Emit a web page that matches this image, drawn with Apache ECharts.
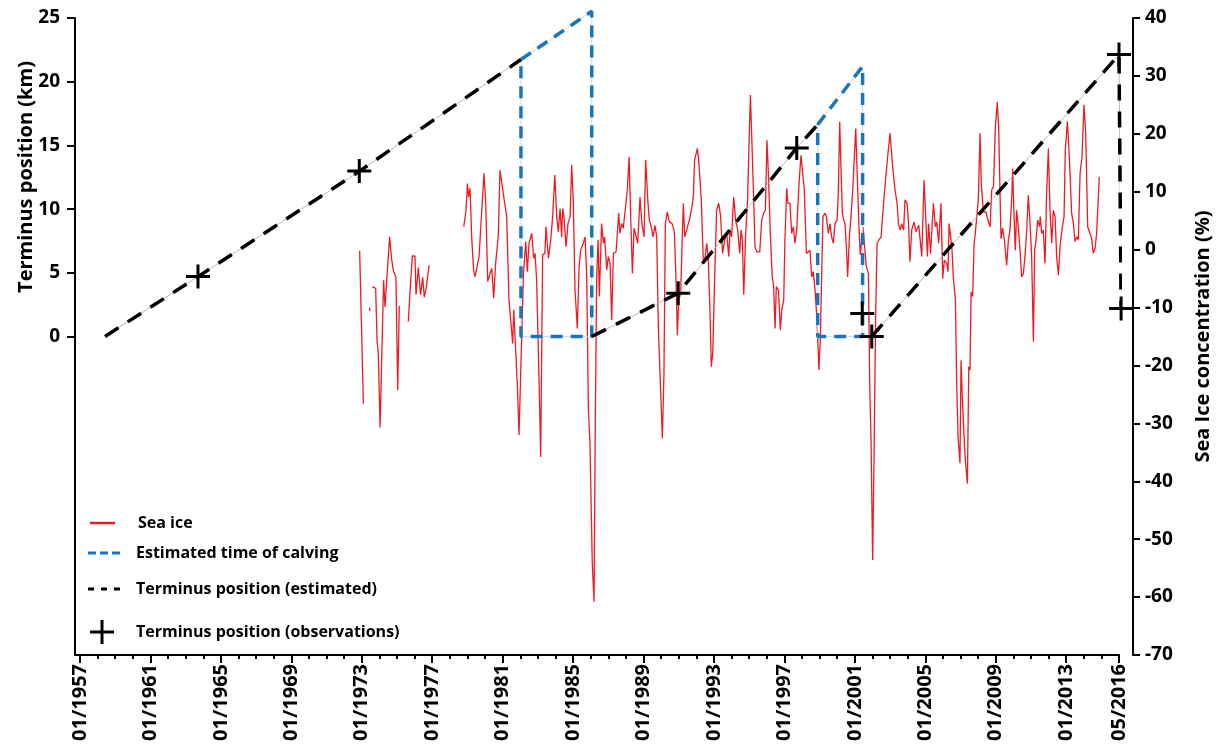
<!DOCTYPE html>
<html><head><meta charset="utf-8">
<script src="https://cdn.jsdelivr.net/npm/echarts@6/dist/echarts.min.js"></script>
<style>html,body{margin:0;padding:0;background:#fff}#c{width:1218px;height:754px}</style>
</head><body><div id="c"></div>
<script>
const FONT = '"Open Sans", "Noto Sans", sans-serif';

// ---- tick labels ----
const xMajorYears = [1957,1961,1965,1969,1973,1977,1981,1985,1989,1993,1997,2001,2005,2009,2013,2016];
const xMinorYears = [];
for (let y = 1957; y <= 2016; y++) xMinorYears.push(y);
const kmTicks = [0,5,10,15,20,25];

// ---- sea ice concentration (%), [decimal year, value] ----
const seaIceA = [[1972.88,-0.2],[1973.09,-26.6]];
const seaIceDot = [[1973.43,-10.0],[1973.47,-10.6]];
const seaIceB = [[1973.60,-6.4],[1973.79,-6.7],[1973.87,-15.9],[1973.94,-17.9],[1974.04,-30.7],[1974.24,-5.3],[1974.32,-9.9],[1974.43,-4.7],[1974.58,2.2],[1974.70,-1.8],[1974.81,-3.8],[1974.94,-4.7],[1975.04,-24.3],[1975.13,-9.7]];
const seaIceB2 = [[1975.64,-12.4],[1975.87,-1.1],[1976.02,-1.1],[1976.08,-7.8],[1976.21,-3.1],[1976.34,-7.8],[1976.46,-4.8],[1976.55,-8.2],[1976.67,-6.4],[1976.82,-2.7]];
const seaIceC = [
[1978.79,3.96],[1978.92,6.8],[1979.00,11.4],[1979.07,9.1],[1979.15,10.6],[1979.24,2.2],[1979.35,-3.5],[1979.43,-4.7],[1979.54,-4.4],[1979.66,-1.2],[1979.75,-0.9],[1979.85,8.6],[1979.94,13.2],[1980.04,8.0],[1980.15,-5.5],[1980.24,-5.8],[1980.38,-3.2],[1980.49,-8.4],[1980.60,-2.4],[1980.75,2.2],[1980.85,13.7],[1980.94,13.7],[1981.09,8.6],[1981.23,5.7],[1981.36,-8.7],[1981.45,-8.4],[1981.57,-16.2],[1981.63,-10.4],[1981.72,-10.7],[1981.83,-23.1],[1981.93,-32.0],[1982.08,-15.0],[1982.18,-4.4],[1982.31,1.4],[1982.40,-3.8],[1982.50,1.1],[1982.65,2.8],[1982.76,-1.5],[1982.84,-0.65],[1982.93,-5.3],[1983.08,-24.3],[1983.16,-35.8],
[1983.27,-0.9],[1983.40,-0.65],[1983.46,3.96],[1983.60,-1.5],[1983.73,1.7],[1983.84,5.7],[1983.96,12.9],[1984.07,5.7],[1984.16,3.1],[1984.26,7.1],[1984.35,2.2],[1984.41,7.1],[1984.48,5.7],[1984.60,0.5],[1984.71,4.5],[1984.83,5.7],[1984.92,14.6],[1985.01,8.6],[1985.11,-7.0],[1985.24,-13.6],[1985.34,-2.9],[1985.43,-0.1],[1985.58,1.1],[1985.68,2.2],[1985.77,-4.1],[1985.87,-27.7],[1985.96,-33.5],[1986.09,-54.2],[1986.19,-60.8],[1986.26,-30.0],[1986.34,-4.7],[1986.42,1.7],[1986.49,-8.1],[1986.62,4.5],[1986.72,1.1],[1986.79,2.2],[1986.91,-3.5],[1987.00,-1.2],[1987.10,-2.4],[1987.19,-12.2],[1987.29,-0.65],[1987.44,-0.4],[1987.59,6.3],[1987.66,2.8],[1987.76,4.5],[1987.85,3.7],[1987.95,3.96],[1988.08,10.3],[1988.18,16.0],[1988.27,5.7],[1988.37,-4.1],[1988.46,3.7],[1988.57,3.7],[1988.67,1.1],[1988.80,9.1],[1988.91,4.5],[1989.03,2.2],[1989.12,15.5],[1989.24,8.6],[1989.33,5.1],[1989.44,3.96],[1989.54,2.2],[1989.65,4.2],[1989.75,2.2],[1989.84,-13.3],[1989.94,-13.6],[1990.07,-32.6],[1990.16,-21.4],[1990.24,4.5],[1990.35,6.5],[1990.46,4.8],[1990.62,4.5],[1990.75,3.1],[1990.84,-4.7],[1990.92,-14.8],[1991.00,-8.7],[1991.11,-7.6],[1991.19,1.1],[1991.26,8.0],[1991.34,2.2],[1991.45,2.5],[1991.60,5.1],[1991.73,7.1],[1991.83,9.1],[1991.90,15.5],[1991.98,15.8],[1992.06,17.5],[1992.13,15.5],[1992.28,8.6],[1992.40,-2.4],[1992.47,-1.8],[1992.59,1.1],[1992.68,-1.8],[1992.77,-10.4],[1992.85,-20.2],[1992.93,-17.9],[1993.04,-4.7],[1993.15,6.8],[1993.27,8.0],[1993.38,5.7],[1993.49,-0.65],[1993.61,1.7],[1993.72,2.8],[1993.84,-1.2],[1993.91,3.4],
[1994.00,2.2],[1994.12,9.1],[1994.23,5.1],[1994.35,3.4],[1994.46,-0.65],[1994.54,3.4],[1994.61,1.7],[1994.69,-7.8],[1994.80,2.8],[1994.91,8.6],[1994.99,18.4],[1995.07,26.7],[1995.14,26.4],[1995.24,10.3],[1995.33,0.5],[1995.44,-0.4],[1995.60,-0.4],[1995.71,5.1],[1995.82,6.3],[1995.92,6.8],[1996.01,18.9],[1996.09,13.2],[1996.20,2.8],[1996.31,-4.7],[1996.39,-6.4],[1996.47,-13.6],[1996.54,-6.4],[1996.66,-7.0],[1996.77,-13.9],[1996.85,-10.4],[1996.96,-8.7],[1997.03,1.7],[1997.13,10.6],[1997.20,8.0],[1997.32,8.0],[1997.41,2.8],[1997.51,3.96],[1997.60,1.1],[1997.70,3.4],[1997.83,11.4],[1997.94,16.3],[1998.04,13.2],[1998.13,10.3],[1998.25,-0.65],[1998.36,-0.4],[1998.45,-0.1],[1998.55,-4.7],[1998.64,-3.8],[1998.74,-7.0],[1998.85,-12.2],[1998.96,-20.8],[1999.04,-15.3],[1999.12,-4.1],[1999.19,5.7],[1999.31,6.3],[1999.38,5.7],[1999.50,2.8],[1999.59,4.5],[1999.68,2.2],[1999.78,1.1],[1999.87,4.5],[1999.99,5.1],[2000.06,9.7],[2000.14,22.1],[2000.21,14.3],[2000.29,6.3],[2000.37,5.1],[2000.44,4.5],[2000.52,0.5],[2000.59,-4.7],[2000.69,2.2],[2000.78,5.7],[2000.88,10.3],[2000.97,16.0],[2001.05,20.9],[2001.12,14.3],[2001.24,3.4],[2001.31,-0.9],[2001.39,-1.2],[2001.46,3.96],[2001.54,1.1],[2001.65,-2.9],[2001.77,-4.1],[2001.84,-22.5],[2001.92,-32.9],[2002.01,-53.6],[2002.09,-35.8],[2002.18,-11.6],[2002.26,1.1],[2002.37,1.7],[2002.49,2.2],[2002.60,6.8],[2002.71,10.9],[2002.86,16.0],[2003.00,20.1],[2003.13,14.9],[2003.28,10.3],[2003.40,8.0],[2003.47,4.5],[2003.58,3.4],[2003.66,4.5],[2003.77,3.4],[2003.85,8.6],[2003.96,8.0],[2004.04,5.1],
[2004.13,-2.1],[2004.23,3.4],[2004.36,4.8],[2004.47,3.1],[2004.63,4.2],[2004.80,-1.2],[2004.93,12.0],[2005.04,4.5],[2005.12,-1.2],[2005.19,4.5],[2005.30,-0.65],[2005.46,8.0],[2005.57,3.96],[2005.65,4.8],[2005.76,1.1],[2005.89,8.0],[2005.99,-5.0],[2006.08,-1.8],[2006.22,-2.4],[2006.29,-3.8],[2006.35,4.5],[2006.44,2.2],[2006.52,-0.1],[2006.59,-4.7],[2006.71,-8.7],[2006.78,-22.5],[2006.86,-32.3],[2006.97,-36.9],[2007.03,-19.1],[2007.12,-27.1],[2007.26,-35.8],[2007.39,-40.4],[2007.47,-20.2],[2007.54,-20.8],[2007.60,-7.3],[2007.69,-8.1],[2007.77,1.1],[2007.82,2.2],[2007.92,2.2],[2008.01,8.6],[2008.11,20.1],[2008.18,11.4],[2008.30,6.5],[2008.45,6.5],[2008.58,4.8],[2008.68,3.96],[2008.77,10.3],[2008.87,10.9],[2008.98,21.2],[2009.09,25.5],[2009.17,20.7],[2009.24,10.3],[2009.30,1.9],[2009.39,3.7],[2009.49,1.7],[2009.62,-2.7],[2009.72,1.7],[2009.81,3.4],[2009.91,9.1],[2009.96,14.0],[2010.04,5.7],[2010.11,-0.1],[2010.19,6.8],[2010.28,3.96],[2010.38,-0.1],[2010.47,-4.7],[2010.57,-4.1],[2010.66,-1.2],[2010.76,3.4],[2010.85,9.4],[2010.95,4.5],[2011.04,-1.2],[2011.14,-15.9],[2011.21,-0.1],[2011.29,1.7],[2011.38,5.1],[2011.48,3.96],[2011.53,5.7],[2011.61,2.8],[2011.70,3.4],[2011.80,-2.4],[2011.89,9.7],[2011.99,17.5],[2012.08,6.8],[2012.18,1.1],[2012.27,6.8],[2012.37,5.7],[2012.46,-1.2],[2012.56,-4.4],[2012.65,0.5],[2012.76,3.4],[2012.88,5.7],[2012.95,17.2],[2013.07,22.1],[2013.18,16.0],[2013.31,6.3],[2013.41,4.5],[2013.50,1.4],[2013.60,2.2],[2013.69,1.7],[2013.79,13.2],[2013.90,16.0],[2014.01,25.0],[2014.11,20.1],[2014.22,3.96],[2014.35,2.8],[2014.45,1.9],[2014.54,-0.65],[2014.64,0.2],[2014.73,2.8],[2014.88,12.6]
];

// ---- terminus position (km) ----
const terminusEst1 = [[1958.42,0],[1963.70,4.7],[1972.90,13.0],[1982.04,21.74]];
const terminusEst2 = [[1986.06,0],[1990.97,3.4],[1997.70,14.8],[1998.89,16.63]];
const terminusEst3 = [[2001.96,0],[2016.0,22.13],[2016.12,2.2]];
const calving1 = [[1982.04,21.74],[1986.06,25.53],[1986.06,0],[1982.04,0],[1982.04,21.74]];
const calving2 = [[1998.89,16.63],[2001.44,21.2],[2001.44,0],[1998.89,0],[1998.89,16.63]];
const observations = [[1963.70,4.7],[1972.86,13.0],[1990.97,3.4],[1997.70,14.8],[2001.42,1.8],[2001.96,0.0],[2016.0,22.13],[2016.12,2.2]];

const RED = '#ec1c24', BLUE = '#1b75bc', BLACK = '#000000';
const PLUS = 'path://M0,10.5h24v3h-24z M10.5,0h3v24h-3z';

function line(name, data, color, width, type, yIdx) {
  return {
    type: 'line', name: name, data: data, xAxisIndex: 0, yAxisIndex: yIdx,
    symbol: 'none', clip: false, silent: true, animation: false,
    lineStyle: { color: color, width: width, type: type, cap: 'butt' },
    itemStyle: { color: color }
  };
}

const series = [];
[seaIceA, seaIceDot, seaIceB, seaIceB2, seaIceC].forEach(d => series.push(line('Sea ice', d, RED, 1.3, 'solid', 1)));
[terminusEst1, terminusEst2, terminusEst3].forEach(d => series.push(line('guide-black', d, '#a8a8a8', 0.8, 'solid', 0)));
[calving1, calving2].forEach(d => series.push(line('guide-blue', d, '#c4dcf0', 1, 'solid', 0)));
[calving1, calving2].forEach(d => series.push(line('Estimated time of calving', d, BLUE, 3.5, [12, 8], 0)));
[terminusEst1, terminusEst2, terminusEst3].forEach(d => series.push(line('Terminus position (estimated)', d, BLACK, 3.5, [16, 11], 0)));
series.push({
  type: 'scatter', name: 'Terminus position (observations)', data: observations,
  xAxisIndex: 0, yAxisIndex: 0, symbol: PLUS, symbolSize: 24, clip: false,
  itemStyle: { color: BLACK, opacity: 1 }, animation: false, z: 5
});

const labelFont = { fontFamily: FONT, fontWeight: 'bold', color: '#000' };
const legendText = (pad) => ({ fontFamily: FONT, fontWeight: 'bold', fontSize: 16, color: '#000', lineHeight: 20, padding: [0, 0, 0, pad] });

const chart = echarts.init(document.getElementById('c'), null, { renderer: 'canvas' });
chart.setOption({
  backgroundColor: '#ffffff',
  animation: false,
  grid: { left: 75, right: 99, top: 18, bottom: 99, containLabel: false, outerBoundsMode: 'none' },
  xAxis: [
    { type: 'value', min: 1956.716, max: 2016, position: 'bottom',
      axisLine: { show: true, onZero: false, lineStyle: { color: '#000', width: 2 } },
      axisTick: { show: true, customValues: xMinorYears, length: 4, lineStyle: { color: '#000', width: 2 } },
      axisLabel: { show: false }, splitLine: { show: false } },
    { type: 'value', min: 1956.716, max: 2016, position: 'bottom',
      axisLine: { show: false, onZero: false },
      axisTick: { show: true, customValues: xMajorYears, length: 8, lineStyle: { color: '#000', width: 2 } },
      axisLabel: Object.assign({ customValues: xMajorYears, rotate: 90, margin: 9, fontSize: 20,
        formatter: v => (v === 2016 ? '05/2016' : '01/' + v) }, labelFont),
      splitLine: { show: false } }
  ],
  yAxis: [
    { type: 'value', position: 'left', min: -25, max: 25,
      axisLine: { show: true, onZero: false, lineStyle: { color: '#000', width: 2 } },
      axisTick: { show: true, customValues: kmTicks, length: 8, lineStyle: { color: '#000', width: 2 } },
      axisLabel: Object.assign({ customValues: kmTicks, margin: 15, fontSize: 19 }, labelFont),
      splitLine: { show: false } },
    { type: 'value', position: 'right', min: -70, max: 40, interval: 10, offset: 14,
      name: 'Sea Ice concentration (%)', nameLocation: 'middle', nameGap: 60, nameRotate: 90,
      nameTextStyle: { fontFamily: FONT, fontWeight: 'bold', fontSize: 20, color: '#000' },
      axisLine: { show: true, onZero: false, lineStyle: { color: '#000', width: 2 } },
      axisTick: { show: true, length: 7, lineStyle: { color: '#000', width: 2 } },
      axisLabel: Object.assign({ margin: 12, fontSize: 19 }, labelFont),
      splitLine: { show: false } }
  ],
  legend: [
    { data: [{ name: 'Sea ice', icon: 'path://M0,0h25v2.5h-25z' }], left: 90, top: 513, padding: 0,
      itemWidth: 25, itemHeight: 3, selectedMode: false, textStyle: legendText(18) },
    { data: [{ name: 'Estimated time of calving', icon: 'path://M0,0h8v3h-8z M12,0h8v3h-8z M24,0h8v3h-8z' }], left: 88, top: 543, padding: 0,
      itemWidth: 32, itemHeight: 3, selectedMode: false, textStyle: legendText(11) },
    { data: [{ name: 'Terminus position (estimated)', icon: 'path://M0,0h6v3h-6z M13,0h6v3h-6z M26,0h6v3h-6z' }], left: 88, top: 579, padding: 0,
      itemWidth: 32, itemHeight: 3, selectedMode: false, textStyle: legendText(11) },
    { data: [{ name: 'Terminus position (observations)', icon: PLUS }], left: 90, top: 620, padding: 0,
      itemWidth: 24, itemHeight: 24, selectedMode: false, textStyle: legendText(17) }
  ],
  graphic: [
    { type: 'text', x: 26, y: 177, rotation: Math.PI / 2, silent: true,
      style: { text: 'Terminus position (km)', font: 'bold 20px "Open Sans", "Noto Sans", sans-serif', fill: '#000', align: 'center', verticalAlign: 'middle' } }
  ],
  series: series
});
</script></body></html>
